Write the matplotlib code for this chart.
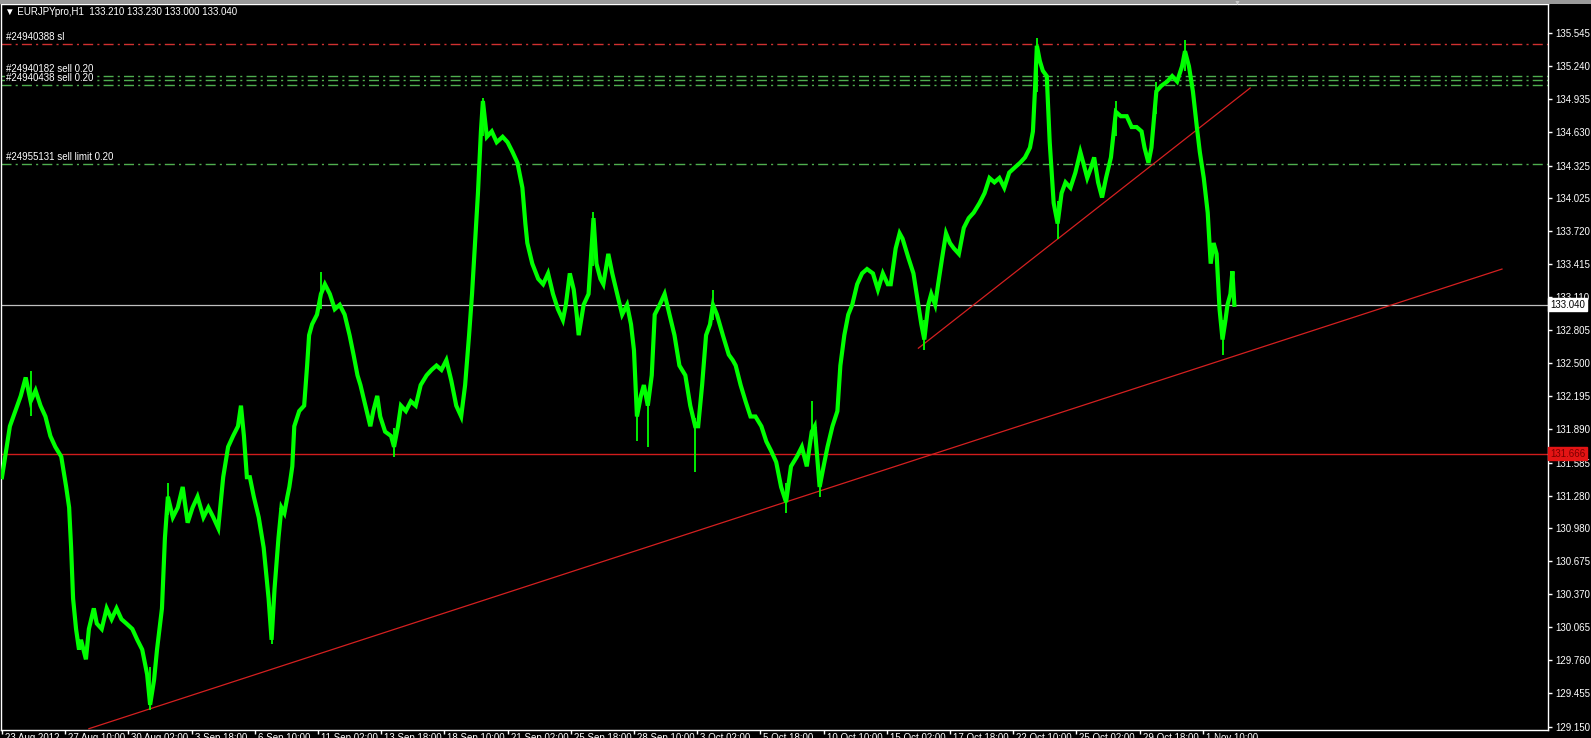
import matplotlib
matplotlib.use('Agg')
import matplotlib.pyplot as plt
from matplotlib.transforms import blended_transform_factory, offset_copy
from matplotlib.patches import Rectangle

plt.rcParams['font.family'] = ['Liberation Sans', 'DejaVu Sans']
plt.rcParams['lines.scale_dashes'] = False

# ---------------- data ----------------
symbol_header = "\u25BC EURJPYpro,H1  133.210 133.230 133.000 133.040"

# hourly bar index (0 = first visible bar) and price
bar_idx = [0, 8, 19, 24, 29, 34, 39, 44, 49, 54, 60, 65, 68, 70, 72, 75, 78, 80, 85, 88,
           93, 96, 101, 106, 111, 116, 121, 126, 132, 137, 142, 147, 150, 154, 157, 162, 165, 168, 173, 178,
           183, 188, 193, 198, 204, 209, 214, 219, 224, 229, 234, 239, 242, 245, 248, 251, 255, 260, 265, 270,
           273, 276, 280, 283, 286, 289, 291, 294, 296, 301, 306, 309, 311, 314, 319, 323, 327, 332, 337, 342,
           347, 352, 356, 360, 363, 368, 373, 376, 380, 383, 388, 394, 397, 401, 404, 409, 414, 419, 424, 430,
           435, 440, 445, 450, 455, 460, 465, 469, 473, 476, 479, 482, 485, 487, 491, 496, 501, 507, 512, 517,
           522, 527, 530, 532, 537, 543, 548, 553, 558, 563, 568, 571, 575, 579, 582, 584, 589, 594, 599, 602,
           606, 609, 614, 618, 623, 628, 633, 637, 640, 643, 647, 650, 654, 658, 661, 666, 671, 676, 681, 686,
           692, 697, 702, 705, 709, 713, 717, 720, 724, 730, 736, 740, 743, 748, 753, 758, 763, 769, 774, 779,
           784, 789, 794, 799, 805, 810, 815, 820, 823, 828, 832, 836, 841, 846, 849, 853, 857, 861, 866, 871,
           876, 882, 887, 892, 897, 900, 905, 909, 912, 918, 923, 928, 931, 934, 938, 941, 945, 948, 952, 956,
           960, 964, 969, 974, 979, 984, 990, 995, 1000, 1005, 1010, 1015, 1020, 1026, 1031, 1036, 1041, 1044, 1046, 1048,
           1051, 1054, 1058, 1061, 1065, 1069, 1073, 1077, 1082, 1087, 1092, 1095, 1099, 1103, 1106, 1110, 1114, 1118, 1123, 1128,
           1133, 1139, 1144, 1149, 1154, 1157, 1161, 1164, 1169, 1174, 1180, 1185, 1190, 1195, 1198, 1202, 1206, 1210, 1213, 1217,
           1221, 1224, 1227, 1230, 1233, 1236, 1239, 1241, 1244, 1246, 1248]

close_px = [131.45, 131.92, 132.20, 132.37, 132.15, 132.25, 132.11, 132.01, 131.83, 131.73, 131.64, 131.36, 131.17, 130.80, 130.33, 130.05, 129.86, 129.95, 129.77, 130.05,
            130.24, 130.10, 130.05, 130.24, 130.14, 130.24, 130.14, 130.10, 130.05, 129.95, 129.86, 129.63, 129.35, 129.58, 129.86, 130.24, 130.89, 131.27, 131.08, 131.17,
            131.36, 131.03, 131.17, 131.27, 131.08, 131.17, 131.08, 130.98, 131.45, 131.73, 131.83, 131.92, 132.11, 131.83, 131.45, 131.45, 131.27, 131.08, 130.80, 130.33,
            129.95, 130.42, 130.89, 131.17, 131.12, 131.27, 131.36, 131.55, 131.92, 132.06, 132.11, 132.48, 132.76, 132.86, 132.95, 133.14, 133.23, 133.14, 133.00, 133.04,
            132.95, 132.76, 132.58, 132.39, 132.30, 132.11, 131.92, 132.06, 132.20, 132.01, 131.87, 131.83, 131.73, 131.92, 132.11, 132.06, 132.15, 132.11, 132.30, 132.39,
            132.44, 132.48, 132.44, 132.53, 132.34, 132.11, 132.01, 132.30, 132.76, 133.14, 133.61, 134.07, 134.64, 134.92, 134.59, 134.64, 134.54, 134.59, 134.54, 134.45,
            134.35, 134.12, 133.79, 133.61, 133.42, 133.28, 133.23, 133.33, 133.14, 133.00, 132.90, 133.04, 133.33, 133.18, 132.95, 132.76, 133.04, 133.14, 133.84, 133.42,
            133.28, 133.23, 133.51, 133.33, 133.14, 132.95, 133.04, 132.86, 132.62, 132.01, 132.20, 132.30, 132.11, 132.39, 132.95, 133.04, 133.14, 132.95, 132.76, 132.48,
            132.39, 132.11, 131.92, 131.92, 132.30, 132.76, 132.86, 133.04, 132.95, 132.76, 132.58, 132.53, 132.48, 132.30, 132.15, 132.01, 132.01, 131.92, 131.78, 131.69,
            131.59, 131.36, 131.22, 131.55, 131.64, 131.73, 131.55, 131.87, 131.92, 131.36, 131.55, 131.73, 131.92, 132.06, 132.48, 132.76, 132.95, 133.04, 133.23, 133.33,
            133.37, 133.33, 133.18, 133.33, 133.23, 133.23, 133.56, 133.70, 133.65, 133.47, 133.33, 133.04, 132.86, 132.72, 133.04, 133.14, 133.04, 133.23, 133.47, 133.70,
            133.61, 133.56, 133.51, 133.75, 133.84, 133.89, 133.98, 134.07, 134.21, 134.17, 134.21, 134.12, 134.26, 134.31, 134.35, 134.40, 134.49, 134.64, 135.01, 135.43,
            135.29, 135.20, 135.15, 134.54, 133.98, 133.79, 134.07, 134.17, 134.12, 134.26, 134.45, 134.35, 134.21, 134.31, 134.40, 134.17, 134.03, 134.21, 134.40, 134.82,
            134.78, 134.78, 134.68, 134.68, 134.64, 134.49, 134.35, 134.49, 135.01, 135.06, 135.10, 135.15, 135.10, 135.24, 135.38, 135.24, 135.01, 134.68, 134.45, 134.21,
            133.89, 133.42, 133.61, 133.51, 133.00, 132.72, 132.90, 133.04, 133.14, 133.35, 133.04]

# notable wicks (bar, low, high)
wick_bar = [29, 150, 168, 273, 323, 397, 487, 599, 643, 654, 702, 720, 794, 820, 828, 934,
            1048, 1069, 1128, 1169, 1198, 1236]
wick_lo = [132.01, 129.30, 131.10, 129.91, 133.00, 131.64, 134.60, 133.40, 131.78, 131.73, 131.50, 132.90, 131.12, 131.80, 131.27, 132.62,
           135.00, 133.65, 134.60, 134.80, 135.20, 132.58]
wick_hi = [132.43, 129.70, 131.40, 130.10, 133.34, 131.90, 134.95, 133.90, 132.10, 132.20, 132.00, 133.18, 131.40, 132.15, 131.50, 132.90,
           135.50, 134.00, 134.92, 135.10, 135.48, 132.90]

# y-axis tick labels
y_ticks = [129.150, 129.455, 129.760, 130.065, 130.370, 130.675, 130.980, 131.280, 131.585, 131.890, 132.195,
           132.500, 132.805, 133.110, 133.415, 133.720, 134.025, 134.325, 134.630, 134.935, 135.240, 135.545]

# x-axis labels, one every 64 hourly bars
x_tick_bars = [0, 64, 128, 192, 256, 320, 384, 448, 512, 576, 640, 704, 768, 832, 896, 960, 1024, 1088, 1152, 1216]
x_tick_labels = ["23 Aug 2012", "27 Aug 10:00", "30 Aug 02:00", "3 Sep 18:00", "6 Sep 10:00", "11 Sep 02:00",
                 "13 Sep 18:00", "18 Sep 10:00", "21 Sep 02:00", "25 Sep 18:00", "28 Sep 10:00", "3 Oct 02:00",
                 "5 Oct 18:00", "10 Oct 10:00", "15 Oct 02:00", "17 Oct 18:00", "22 Oct 10:00", "25 Oct 02:00",
                 "29 Oct 18:00", "1 Nov 10:00"]

# order lines
sl_price = 135.45
sl_label = "#24940388 sl"
sell_prices = [135.15, 135.11, 135.07]
sell_labels = ["#24940182 sell 0.20", None, "#24940438 sell 0.20"]
limit_price = 134.335
limit_label = "#24955131 sell limit 0.20"

bid_price = 133.040
hline_price = 131.666

# trend lines (bar, price)
trend1_bars = [88, 1519]
trend1_prices = [129.13, 133.37]
trend2_bars = [928, 1264]
trend2_prices = [132.64, 135.04]

# ---------------- figure ----------------
W, H = 1591, 738
fig = plt.figure(figsize=(W / 100, H / 100), dpi=100, facecolor='black')
ax = fig.add_axes([1 / W, 8 / H, 1547 / W, 726 / H], facecolor='black')

ax.set_xlim(-1.0, 1565.6)
ax.set_ylim(129.118, 135.815)

green = '#00ff00'
red = '#d42020'
ord_green = '#4fae4f'

# horizontal lines
ax.axhline(hline_price, color='#d01c1c', lw=1.0, zorder=1)
ax.axhline(bid_price, color='#bfbfbf', lw=0.9, zorder=1)
dd = (7.2, 3.0, 1.5, 3.0)
ax.axhline(sl_price, color='#d03030', lw=1.0, dashes=dd, zorder=1)
for p in sell_prices:
    ax.axhline(p, color=ord_green, lw=1.0, dashes=dd, zorder=1)
ax.axhline(limit_price, color=ord_green, lw=1.0, dashes=dd, zorder=1)

# trend lines
ax.plot(trend1_bars, trend1_prices, color=red, lw=0.9, zorder=2)
ax.plot(trend2_bars, trend2_prices, color=red, lw=0.9, zorder=2)

# price
ax.vlines(wick_bar, wick_lo, wick_hi, color=green, lw=1.3, zorder=3)
ax.plot(bar_idx, close_px, color=green, lw=3.0, zorder=3, solid_joinstyle='miter')

# order labels
blend = blended_transform_factory(ax.transAxes, ax.transData)
lab_tr = offset_copy(blend, fig=fig, x=5, y=2, units='dots')
txt_kw = dict(color='white', fontsize=7, va='bottom', ha='left', transform=lab_tr, zorder=5)
ax.text(0, sl_price, sl_label, **txt_kw)
for p, lab in zip(sell_prices, sell_labels):
    if lab:
        ax.text(0, p, lab, bbox=dict(facecolor='black', edgecolor='none', pad=0.5), **txt_kw)
ax.text(0, limit_price, limit_label, **txt_kw)

# spines / ticks
for s in ax.spines.values():
    s.set_color('white')
    s.set_linewidth(1)
ax.yaxis.tick_right()
ax.set_yticks(y_ticks)
ax.set_yticklabels([f"{v:.3f}" for v in y_ticks])
ax.tick_params(axis='y', colors='white', length=3, width=1, pad=2, labelsize=7, direction='out')
ax.set_xticks(x_tick_bars)
ax.set_xticklabels([])
ax.tick_params(axis='x', colors='white', length=3, width=1, direction='out')
xl_tr = offset_copy(ax.get_xaxis_transform(), fig=fig, x=3, y=-3, units='dots')
for b, lab in zip(x_tick_bars, x_tick_labels):
    ax.text(b, 0, lab, transform=xl_tr, color='white', fontsize=7, ha='left', va='top', clip_on=False)

# price boxes on the right axis
rb_tr = offset_copy(blend, fig=fig, x=2, y=0, units='dots')
ax.text(1.0, bid_price, "133.040", transform=rb_tr, color='black', fontsize=7, ha='left', va='center',
        bbox=dict(facecolor='white', edgecolor='white', pad=1.2), clip_on=False, zorder=6)
ax.text(1.0, hline_price, "131.666", transform=rb_tr, color='#7a0000', fontsize=7, ha='left', va='center',
        bbox=dict(facecolor='#e41414', edgecolor='#e41414', pad=1.2), clip_on=False, zorder=6)

# header and top strip
fig.patches.append(Rectangle((0, 1 - 3.5 / H), 1, 3.5 / H, transform=fig.transFigure,
                             facecolor='#9a9a9a', edgecolor='none'))
fig.text(1237 / W, 1 - 3 / H, "\u25BC", color='#c8c8c8', fontsize=5, ha='center', va='center')
fig.text(5 / W, 1 - 12 / H, symbol_header, color='white', fontsize=7, ha='left', va='center')

fig.savefig('out.png', dpi=100, facecolor='black')
